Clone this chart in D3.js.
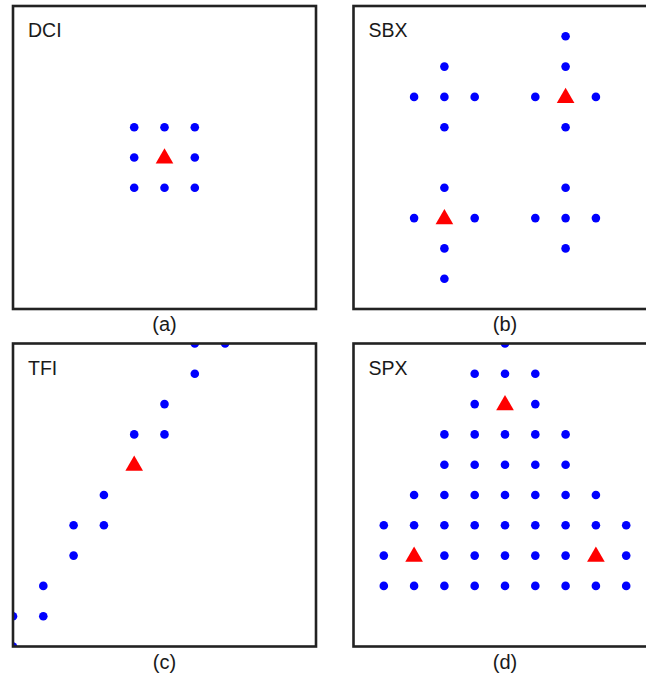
<!DOCTYPE html>
<html>
<head>
<meta charset="utf-8">
<script src="https://cdn.jsdelivr.net/npm/d3@7"></script>
<style>
  html, body { margin: 0; padding: 0; background: #fff; }
  svg { display: block; }
</style>
</head>
<body>
<svg id="chart" width="646" height="677"></svg>
<script>
// Search-space samples on a 0..10 integer grid (x to the right, y upward).
// Parents are drawn as red triangles, offspring as blue dots.

const dciOffspring = [[4,4],[5,4],[6,4],[4,5],[6,5],[4,6],[5,6],[6,6]];
const dciParents   = [[5,5]];

const sbxOffspring = [
  [3,8],[2,7],[3,7],[4,7],[3,6],
  [7,9],[7,8],[6,7],[8,7],[7,6],
  [3,4],[2,3],[4,3],[3,2],[3,1],
  [7,4],[6,3],[7,3],[8,3],[7,2]
];
const sbxParents = [[7,7],[3,3]];

const tfiOffspring = [
  [6,10],[7,10],[6,9],[5,8],[4,7],[5,7],
  [3,5],[2,4],[3,4],[2,3],[1,2],[0,1],[1,1],[0,0]
];
const tfiParents = [[4,6]];

const spxOffspring = [
  [5,10],
  [4,9],[5,9],[6,9],
  [4,8],[6,8],
  [3,7],[4,7],[5,7],[6,7],[7,7],
  [3,6],[4,6],[5,6],[6,6],[7,6],
  [2,5],[3,5],[4,5],[5,5],[6,5],[7,5],[8,5],
  [1,4],[2,4],[3,4],[4,4],[5,4],[6,4],[7,4],[8,4],[9,4],
  [1,3],[3,3],[4,3],[5,3],[6,3],[7,3],[9,3],
  [1,2],[2,2],[3,2],[4,2],[5,2],[6,2],[7,2],[8,2],[9,2]
];
const spxParents = [[5,8],[2,3],[8,3]];

const panelNames    = ["DCI", "SBX", "TFI", "SPX"];
const panelCaptions = ["(a)", "(b)", "(c)", "(d)"];
const panelData = [
  { offspring: dciOffspring, parents: dciParents },
  { offspring: sbxOffspring, parents: sbxParents },
  { offspring: tfiOffspring, parents: tfiParents },
  { offspring: spxOffspring, parents: spxParents }
];
const gridDomain = [0, 10];

// Layout
const boxSize = 303;
const origins = [[13, 6], [353.5, 6], [13, 343.5], [353.5, 343.5]];

const svg = d3.select("#chart");
const x = d3.scaleLinear().domain(gridDomain).range([0, boxSize]);
const y = d3.scaleLinear().domain(gridDomain).range([boxSize, 0]);
const triangle = d3.symbol().type(d3.symbolTriangle).size(135);

panelData.forEach((d, i) => {
  const [ox, oy] = origins[i];
  const g = svg.append("g").attr("transform", `translate(${ox},${oy})`);

  const clipId = "clip-" + i;
  svg.append("defs").append("clipPath").attr("id", clipId)
    .append("rect").attr("x", 0).attr("y", 0)
    .attr("width", boxSize).attr("height", boxSize);

  const plot = g.append("g").attr("clip-path", `url(#${clipId})`);

  plot.selectAll("circle.off")
    .data(d.offspring)
    .join("circle")
    .attr("class", "off")
    .attr("cx", p => x(p[0]))
    .attr("cy", p => y(p[1]))
    .attr("r", 4.3)
    .attr("fill", "#0000ff");

  plot.selectAll("path.par")
    .data(d.parents)
    .join("path")
    .attr("class", "par")
    .attr("d", triangle)
    .attr("transform", p => `translate(${x(p[0])},${y(p[1]) + 1})`)
    .attr("fill", "#ff0000");

  g.append("rect")
    .attr("x", 0).attr("y", 0)
    .attr("width", boxSize).attr("height", boxSize)
    .attr("fill", "none")
    .attr("stroke", "#222")
    .attr("stroke-width", 2.6);

  g.append("text")
    .attr("x", 15)
    .attr("y", 31)
    .attr("font-family", "Liberation Sans, Arial, sans-serif")
    .attr("font-size", 19.5)
    .attr("fill", "#1a1a1a")
    .text(panelNames[i]);

  g.append("text")
    .attr("x", boxSize / 2)
    .attr("y", boxSize + 22)
    .attr("text-anchor", "middle")
    .attr("font-family", "Liberation Sans, Arial, sans-serif")
    .attr("font-size", 20)
    .attr("fill", "#1a1a1a")
    .text(panelCaptions[i]);
});
</script>
</body>
</html>
